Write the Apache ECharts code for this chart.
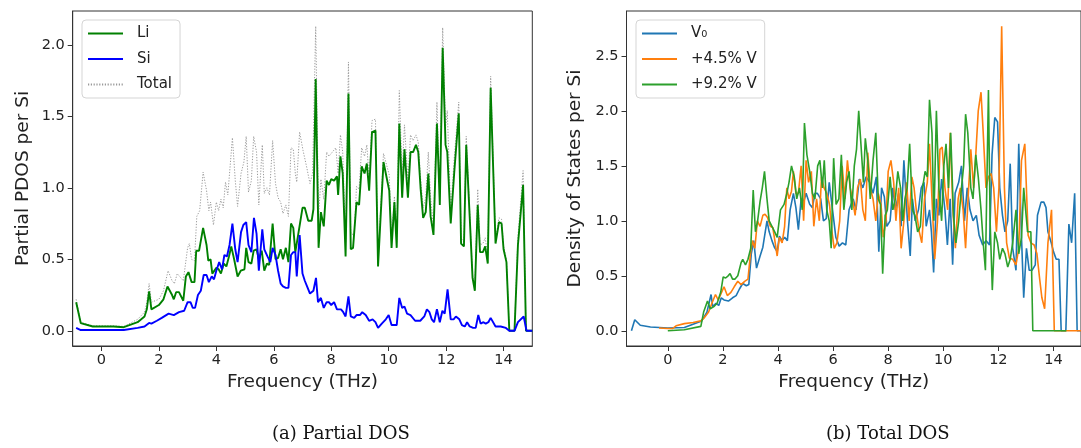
<!DOCTYPE html>
<html><head><meta charset="utf-8">
<script src="https://cdn.jsdelivr.net/npm/echarts@6/dist/echarts.min.js"></script>
<style>html,body{margin:0;padding:0;background:#fff}#c{width:1081px;height:448px}</style>
</head><body><div id="c"></div><script>
// ---------- Panel (a): Partial DOS ----------
var liFreq = [-0.88,-0.72,-0.3,0.42,0.78,1.26,1.5,1.58,1.66,1.74,2.0,2.16,2.3,2.46,2.52,2.6,2.7,2.85,2.94,3.03,3.14,3.24,3.3,3.4,3.54,3.66,3.72,3.8,3.86,4.0,4.08,4.16,4.26,4.35,4.44,4.52,4.62,4.74,4.85,4.98,5.04,5.12,5.22,5.3,5.4,5.48,5.58,5.67,5.76,5.84,5.96,6.06,6.15,6.24,6.32,6.42,6.51,6.6,6.68,6.75,6.84,7.0,7.08,7.2,7.32,7.38,7.46,7.56,7.64,7.74,7.84,7.92,8.0,8.1,8.2,8.24,8.32,8.4,8.5,8.6,8.68,8.76,8.88,8.97,9.06,9.16,9.24,9.32,9.42,9.54,9.63,9.72,9.82,9.9,10.02,10.1,10.2,10.28,10.37,10.47,10.55,10.67,10.76,10.85,10.95,11.03,11.11,11.2,11.29,11.38,11.46,11.56,11.68,11.78,11.88,11.98,12.04,12.16,12.28,12.44,12.52,12.62,12.7,12.82,12.92,13.0,13.1,13.18,13.28,13.36,13.45,13.55,13.72,13.84,13.93,14.0,14.1,14.2,14.38,14.5,14.68,14.78,15.0];
var liVal = [0.2,0.054,0.03,0.03,0.025,0.06,0.1,0.15,0.275,0.15,0.18,0.22,0.31,0.25,0.22,0.27,0.27,0.21,0.38,0.41,0.34,0.34,0.56,0.56,0.72,0.6,0.49,0.5,0.4,0.44,0.43,0.40,0.47,0.45,0.52,0.59,0.5,0.38,0.42,0.43,0.58,0.48,0.47,0.56,0.57,0.5,0.56,0.42,0.47,0.46,0.75,0.5,0.51,0.57,0.5,0.58,0.48,0.75,0.72,0.55,0.66,0.86,0.86,0.77,0.77,0.85,1.76,0.58,0.83,0.73,1.05,1.02,1.06,1.05,1.08,0.95,1.22,1.1,0.52,1.66,0.57,0.58,0.9,0.88,1.15,1.1,1.17,0.98,1.39,1.4,0.45,0.8,1.18,1.1,0.98,0.58,0.9,0.58,1.45,0.93,1.27,0.93,1.25,1.25,1.3,1.25,1.0,0.79,0.83,1.1,0.8,0.67,1.45,0.88,1.98,1.3,1.25,0.75,1.1,1.52,0.61,0.59,1.3,0.8,0.37,0.28,0.88,0.55,0.55,0.59,0.47,1.7,0.61,0.76,0.75,0.57,0.48,0.0,0.0,0.6,1.02,0.0,0.0];

var siFreq = [-0.88,-0.72,0.78,1.26,1.5,1.66,1.74,1.93,2.1,2.34,2.52,2.7,2.88,3.0,3.1,3.18,3.26,3.36,3.46,3.56,3.66,3.74,3.84,3.92,4.0,4.1,4.2,4.28,4.37,4.46,4.56,4.66,4.74,4.86,4.94,5.04,5.12,5.22,5.31,5.4,5.48,5.6,5.67,5.78,5.88,5.96,6.06,6.15,6.24,6.32,6.42,6.51,6.6,6.68,6.75,6.8,6.9,7.0,7.08,7.18,7.26,7.38,7.47,7.54,7.64,7.74,7.84,7.92,8.0,8.1,8.2,8.34,8.42,8.5,8.6,8.68,8.8,8.88,9.0,9.08,9.2,9.32,9.44,9.54,9.63,9.76,9.9,10.0,10.1,10.28,10.37,10.47,10.55,10.64,10.76,10.92,11.1,11.24,11.33,11.42,11.5,11.58,11.68,11.78,11.87,11.95,12.05,12.16,12.26,12.34,12.46,12.55,12.65,12.73,12.82,12.94,13.03,13.12,13.2,13.3,13.38,13.47,13.55,13.72,13.9,14.08,14.2,14.38,14.5,14.7,14.8,15.0];
var siVal = [0.02,0.005,0.005,0.02,0.03,0.055,0.05,0.07,0.09,0.12,0.11,0.13,0.14,0.2,0.2,0.16,0.16,0.25,0.28,0.39,0.39,0.34,0.38,0.36,0.42,0.48,0.43,0.53,0.52,0.6,0.75,0.57,0.48,0.69,0.74,0.76,0.6,0.55,0.79,0.68,0.42,0.71,0.57,0.52,0.48,0.58,0.53,0.42,0.33,0.31,0.3,0.3,0.53,0.55,0.55,0.38,0.67,0.4,0.35,0.3,0.26,0.28,0.37,0.2,0.23,0.16,0.2,0.2,0.18,0.2,0.15,0.15,0.13,0.1,0.24,0.1,0.09,0.11,0.11,0.13,0.11,0.07,0.08,0.06,0.02,0.05,0.08,0.11,0.04,0.04,0.23,0.16,0.17,0.12,0.11,0.07,0.07,0.1,0.15,0.13,0.08,0.06,0.15,0.06,0.14,0.12,0.29,0.08,0.08,0.1,0.08,0.04,0.03,0.06,0.03,0.02,0.02,0.11,0.05,0.06,0.05,0.06,0.09,0.03,0.03,0.02,0.0,0.0,0.06,0.1,0.0,0.0];

var totFreq = [-0.88,-0.72,-0.3,0.42,0.78,1.26,1.5,1.58,1.66,1.74,2.0,2.16,2.32,2.46,2.54,2.64,2.72,2.85,3.0,3.06,3.14,3.24,3.32,3.42,3.54,3.66,3.74,3.8,3.9,4.0,4.08,4.16,4.24,4.32,4.4,4.56,4.66,4.74,4.86,4.96,5.04,5.12,5.22,5.3,5.4,5.48,5.6,5.67,5.76,5.85,5.96,6.06,6.15,6.24,6.32,6.42,6.51,6.6,6.68,6.75,6.8,6.9,7.02,7.14,7.26,7.35,7.46,7.56,7.64,7.74,7.84,7.92,8.04,8.16,8.24,8.32,8.4,8.5,8.6,8.68,8.8,8.88,8.97,9.06,9.16,9.24,9.32,9.42,9.54,9.63,9.72,9.82,9.9,10.02,10.1,10.2,10.28,10.37,10.47,10.55,10.67,10.76,10.85,10.95,11.03,11.11,11.2,11.29,11.38,11.46,11.56,11.68,11.78,11.88,11.98,12.04,12.16,12.28,12.44,12.52,12.62,12.7,12.82,12.92,13.0,13.1,13.18,13.28,13.36,13.45,13.55,13.72,13.84,13.93,14.0,14.1,14.2,14.38,14.5,14.68,14.78,15.0];
var totVal = [0.22,0.06,0.035,0.035,0.03,0.08,0.13,0.2,0.33,0.2,0.22,0.28,0.42,0.35,0.33,0.4,0.38,0.35,0.58,0.61,0.5,0.49,0.8,0.84,1.11,0.98,0.84,0.9,0.74,0.9,0.84,0.92,0.86,1.04,0.95,1.35,1.05,0.87,1.1,1.18,1.36,0.97,1.05,1.36,1.25,0.88,1.3,0.96,1.0,0.95,1.33,1.03,0.93,0.9,0.82,0.88,0.8,1.28,1.27,1.1,1.04,1.39,1.26,1.15,1.03,1.1,2.13,0.8,1.06,0.92,1.25,1.22,1.25,1.28,1.1,1.37,1.25,0.62,1.88,0.68,0.67,1.01,0.99,1.28,1.22,1.3,1.05,1.47,1.48,0.47,0.85,1.24,1.18,1.09,0.62,0.94,0.62,1.68,1.09,1.44,1.05,1.37,1.33,1.37,1.32,1.07,0.86,0.93,1.25,0.93,0.73,1.6,0.94,2.12,1.42,1.54,0.83,1.2,1.6,0.65,0.62,1.36,0.83,0.39,0.3,0.99,0.6,0.61,0.65,0.53,1.78,0.64,0.79,0.78,0.59,0.5,0.0,0.0,0.66,1.12,0.0,0.0];

// ---------- Panel (b): Total DOS ----------
var v0Freq = [-1.32,-1.2,-1.0,-0.63,0,0.6,1.23,1.42,1.57,1.63,1.75,1.85,1.94,2.04,2.2,2.35,2.48,2.6,2.72,2.85,2.94,3.03,3.12,3.22,3.35,3.45,3.6,3.68,3.78,3.87,3.97,4.05,4.15,4.24,4.34,4.44,4.56,4.65,4.74,4.84,4.94,5.02,5.15,5.25,5.34,5.43,5.55,5.65,5.75,5.86,5.98,6.1,6.22,6.34,6.46,6.58,6.73,6.83,6.95,7.08,7.2,7.33,7.45,7.57,7.66,7.76,7.86,7.95,8.07,8.17,8.26,8.38,8.47,8.57,8.7,8.8,8.88,8.98,9.1,9.2,9.3,9.38,9.5,9.57,9.65,9.75,9.84,9.94,10.06,10.15,10.25,10.34,10.43,10.56,10.66,10.77,10.87,10.97,11.08,11.2,11.3,11.43,11.55,11.68,11.77,11.87,11.97,12.05,12.15,12.24,12.34,12.43,12.52,12.64,12.74,12.84,12.92,13.02,13.12,13.22,13.34,13.42,13.55,13.65,13.73,13.8,13.92,14.0,14.1,14.2,14.28,14.45,14.56,14.66,14.77,14.86,15.2];
var v0Val = [0.0,0.1,0.05,0.035,0.025,0.03,0.09,0.17,0.33,0.22,0.25,0.23,0.3,0.28,0.27,0.3,0.32,0.38,0.43,0.41,0.42,0.7,0.82,0.57,0.68,0.76,1.0,0.9,0.82,0.76,0.72,0.86,0.82,0.85,0.82,1.1,1.25,1.12,0.92,1.2,1.18,1.25,1.15,1.12,1.25,1.25,1.2,1.0,1.02,1.35,1.1,0.85,0.77,0.8,0.78,1.1,1.2,1.1,1.38,1.3,1.4,1.35,1.25,1.4,0.72,1.3,1.22,0.95,1.0,1.3,1.1,1.25,0.95,1.55,1.0,0.68,1.2,1.0,1.1,1.3,1.35,0.95,1.1,0.9,0.53,1.2,1.05,1.38,1.1,0.78,1.2,0.6,1.25,1.35,1.5,1.0,1.3,1.1,1.0,1.05,0.87,0.78,0.82,0.78,1.6,1.94,1.9,1.3,1.05,0.9,1.0,1.52,0.75,0.55,1.7,0.85,0.3,0.75,0.55,0.55,0.6,1.05,1.17,1.17,1.12,0.9,0.8,0.72,0.65,0.65,0.0,0.0,0.97,0.8,1.25,0.0,0.0];

var v45Freq = [-0.32,0,0.17,0.3,0.6,0.92,1.2,1.33,1.48,1.6,1.73,1.83,1.92,2.04,2.16,2.29,2.41,2.54,2.66,2.79,2.91,3.0,3.07,3.16,3.25,3.35,3.45,3.53,3.62,3.72,3.81,3.88,3.97,4.05,4.15,4.24,4.32,4.4,4.49,4.56,4.65,4.74,4.84,4.93,5.02,5.11,5.21,5.3,5.4,5.5,5.58,5.67,5.77,5.87,5.96,6.04,6.14,6.24,6.33,6.43,6.52,6.62,6.7,6.8,6.89,6.99,7.08,7.17,7.26,7.35,7.45,7.55,7.64,7.74,7.82,7.92,8.0,8.1,8.2,8.28,8.38,8.47,8.57,8.67,8.76,8.86,8.94,9.04,9.13,9.22,9.32,9.42,9.5,9.59,9.69,9.79,9.88,9.96,10.06,10.16,10.25,10.35,10.44,10.54,10.62,10.72,10.81,10.91,11.0,11.1,11.18,11.27,11.37,11.45,11.55,11.64,11.74,11.83,11.93,12.02,12.12,12.22,12.3,12.4,12.52,12.64,12.74,12.84,12.96,13.08,13.18,13.3,13.4,13.5,13.58,13.68,13.8,13.93,14.03,15.2];
var v45Val = [0.025,0.02,0.02,0.045,0.065,0.075,0.09,0.12,0.17,0.25,0.33,0.28,0.33,0.4,0.32,0.35,0.4,0.45,0.42,0.45,0.47,0.7,0.82,0.75,1.0,0.95,1.05,1.06,1.03,0.95,0.94,0.83,0.68,0.85,0.8,0.95,1.3,1.2,1.27,1.45,1.25,1.25,1.5,1.0,1.55,1.35,1.45,0.95,1.2,1.0,1.4,1.3,1.25,1.15,0.9,0.75,0.8,1.0,1.5,1.2,1.55,1.3,1.2,1.05,1.3,1.38,1.1,1.0,1.62,1.3,1.2,1.0,1.25,1.15,0.85,1.0,1.45,1.55,1.35,1.0,1.3,0.75,1.0,1.35,1.0,1.4,1.3,1.05,0.9,0.8,1.2,1.35,1.7,1.2,0.65,1.0,1.65,1.67,1.3,1.1,1.8,1.1,0.75,1.2,1.3,1.1,0.75,1.25,1.65,1.3,1.6,2.0,2.17,1.8,1.3,1.4,1.43,1.3,0.9,1.3,2.77,1.3,0.8,0.66,0.65,0.6,0.75,1.55,1.7,0.87,0.8,0.78,0.7,0.47,0.3,0.2,0.8,1.1,0.0,0.0];

var v92Freq = [0,0.6,1.2,1.3,1.44,1.54,1.67,1.79,1.92,2.01,2.1,2.19,2.26,2.35,2.44,2.54,2.66,2.72,2.82,2.91,3.01,3.1,3.18,3.26,3.35,3.43,3.51,3.6,3.68,3.78,3.88,3.97,4.09,4.22,4.32,4.4,4.49,4.59,4.68,4.78,4.88,4.96,5.05,5.15,5.25,5.34,5.44,5.52,5.61,5.68,5.77,5.86,5.93,6.02,6.11,6.21,6.3,6.39,6.49,6.58,6.68,6.77,6.85,6.93,7.01,7.1,7.17,7.26,7.35,7.45,7.55,7.64,7.72,7.8,7.89,7.97,8.07,8.17,8.26,8.35,8.45,8.53,8.61,8.69,8.78,8.88,8.97,9.07,9.17,9.25,9.34,9.42,9.5,9.59,9.66,9.75,9.84,9.94,10.02,10.1,10.19,10.27,10.37,10.46,10.56,10.66,10.74,10.81,10.89,11.0,11.08,11.18,11.27,11.37,11.45,11.53,11.64,11.7,11.78,11.87,11.97,12.05,12.15,12.24,12.34,12.43,12.52,12.64,12.74,12.84,12.92,13.06,13.18,13.25,14.47];
var v92Val = [0.0,0.01,0.04,0.17,0.27,0.2,0.22,0.25,0.35,0.49,0.48,0.5,0.52,0.47,0.47,0.5,0.62,0.65,0.6,0.65,0.75,1.28,0.9,1.0,1.18,1.3,1.45,1.2,1.0,0.95,0.9,0.85,1.1,1.15,1.25,1.35,1.5,1.4,1.2,1.3,1.1,1.89,1.6,1.45,1.25,1.2,1.5,1.55,1.3,1.55,1.1,1.0,0.75,1.57,1.15,1.2,1.6,1.1,1.35,1.45,1.1,1.5,1.65,2.0,1.7,1.35,1.75,1.55,1.2,1.55,1.8,1.2,1.15,0.52,1.05,1.1,1.4,1.1,1.2,1.45,1.3,1.0,1.2,1.3,1.7,1.1,1.05,0.9,0.95,1.3,1.45,1.4,2.1,1.8,1.0,2.0,1.3,1.0,1.5,1.7,1.3,1.8,1.05,0.8,1.0,1.3,1.5,1.97,1.8,1.3,1.2,1.6,1.4,1.1,0.8,0.55,2.19,1.0,0.37,0.9,0.8,0.65,0.75,0.7,0.58,0.65,0.8,1.1,0.7,0.85,1.3,0.9,0.9,0.0,0.0];

var xTicks = [0,2,4,6,8,10,12,14];
var yTicksA = [0,0.5,1.0,1.5,2.0];
var yTicksB = [0,0.5,1.0,1.5,2.0,2.5];

function pairs(xs, ys){ return xs.map(function(x,i){ return [x, ys[i]]; }); }

var FONT = 'DejaVu Sans';
var INK = '#222';

function xAxis(gi, min, max){
  return {type:'value', gridIndex:gi, min:min, max:max,
    name:'Frequency (THz)', nameLocation:'middle', nameGap:27,
    nameTextStyle:{fontFamily:FONT, fontSize:18.5, color:INK},
    axisLine:{show:true, onZero:false, lineStyle:{color:'#333', width:1}},
    axisTick:{show:true, length:5, inside:false, customValues:xTicks, lineStyle:{color:'#333'}},
    axisLabel:{customValues:xTicks, margin:7, fontFamily:FONT, fontSize:14.5, color:INK,
      formatter:function(v){return String(v);}},
    splitLine:{show:false}};
}
function yAxis(gi, min, max, ticks, name, gap){
  return {type:'value', gridIndex:gi, min:min, max:max,
    name:name, nameLocation:'middle', nameGap:gap,
    nameTextStyle:{fontFamily:FONT, fontSize:18.5, color:INK},
    axisLine:{show:true, onZero:false, lineStyle:{color:'#333', width:1}},
    axisTick:{show:true, length:5, customValues:ticks, lineStyle:{color:'#333'}},
    axisLabel:{customValues:ticks, margin:8, fontFamily:FONT, fontSize:14.5, color:INK,
      formatter:function(v){return v.toFixed(1);}},
    splitLine:{show:false}};
}
function line(name, data, color, width, gi, type){
  return {name:name, type:'line', xAxisIndex:gi, yAxisIndex:gi, data:data,
    symbol:'none', showSymbol:false, clip:true, animation:false,
    lineStyle:{color:color, width:width, type:type||'solid'}, itemStyle:{color:color},
    emphasis:{disabled:true}};
}
function legend(left, top, names){
  return {orient:'vertical', left:left, top:top, data:names,
    backgroundColor:'rgba(255,255,255,0.85)', borderColor:'#d5d5d5', borderWidth:1, borderRadius:4,
    padding:[6,8,6,5], itemWidth:35, itemHeight:14, itemGap:10.5,
    itemStyle:{opacity:0},
    textStyle:{fontFamily:FONT, fontSize:15, color:INK, padding:[0,0,0,9]},
    selectedMode:false};
}

var chart = echarts.init(document.getElementById('c'), null, {renderer:'canvas'});
chart.setOption({
  backgroundColor:'#fff',
  animation:false,
  grid:[
    {left:72.7, top:11, width:459.6, height:335, show:true, borderColor:'#333', borderWidth:1, backgroundColor:'transparent'},
    {left:626.5, top:11, width:459.6, height:335, show:true, borderColor:'#333', borderWidth:1, backgroundColor:'transparent'}
  ],
  xAxis:[xAxis(0,-1,15), xAxis(1,-1.5,15)],
  yAxis:[yAxis(0,-0.1065,2.2365,yTicksA,'Partial PDOS per Si',40), yAxis(1,-0.1385,2.9085,yTicksB,'Density of States per Si',42)],
  legend:[legend(82,20,['Li','Si','Total']), legend(636,20,['V\u2080','+4.5% V','+9.2% V'])],
  series:[
    line('Total', pairs(totFreq,totVal), '#9a9a9a', 1, 0, [1.2,1.6]),
    line('Li', pairs(liFreq,liVal), '#008000', 1.9, 0),
    line('Si', pairs(siFreq,siVal), '#0000ff', 1.9, 0),
    line('V\u2080', pairs(v0Freq,v0Val), '#1f77b4', 1.6, 1),
    line('+4.5% V', pairs(v45Freq,v45Val), '#ff7f0e', 1.6, 1),
    line('+9.2% V', pairs(v92Freq,v92Val), '#2ca02c', 1.6, 1)
  ],
  graphic:[
    {type:'text', left:272, top:425, style:{text:'(a) Partial DOS', fontFamily:'DejaVu Serif', fontSize:18, fill:'#111', textAlign:'center'}},
    {type:'text', left:826, top:425, style:{text:'(b) Total DOS', fontFamily:'DejaVu Serif', fontSize:18, fill:'#111', textAlign:'center'}}
  ]
});
</script></body></html>
